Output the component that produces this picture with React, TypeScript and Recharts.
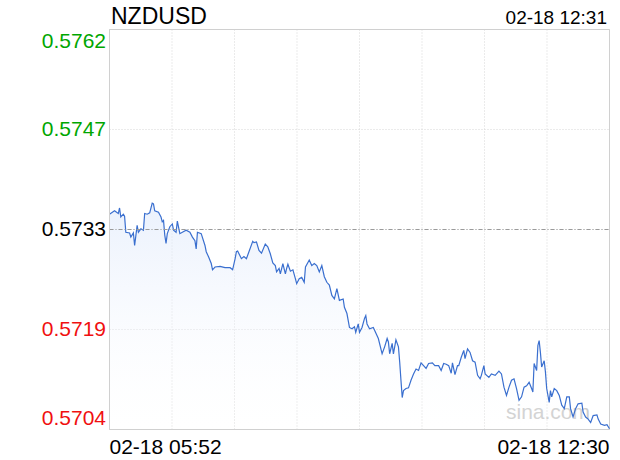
import React from "react"
import { AreaChart, Area, XAxis, YAxis, CartesianGrid, ReferenceLine, ReferenceArea } from "recharts"

// minute of day (05:52 = 352 ... 12:30 = 750) and NZDUSD price at that minute
const minuteOfDay = [
  352, 356, 359, 360, 361, 363, 364, 365, 368, 369, 371, 372, 374, 375, 377, 379, 380, 382, 384, 386,
  387, 388, 391, 393, 394, 395, 396, 397, 398, 400, 402, 403, 405, 406, 408, 410, 413, 416, 418, 420,
  421, 422, 425, 428, 429, 431, 433, 434, 436, 440, 444, 448, 450, 452, 453, 454, 457, 459, 461, 463,
  466, 467, 469, 471, 473, 476, 478, 480, 482, 484, 485, 487, 488, 490, 492, 493, 494, 496, 498, 500,
  501, 503, 505, 507, 508, 511, 513, 515, 517, 519, 521, 523, 525, 527, 529, 531, 533, 535, 538, 539,
  541, 543, 545, 547, 548, 550, 551, 553, 555, 556, 557, 559, 562, 563, 566, 569, 571, 573, 574, 575,
  577, 578, 580, 582, 583, 584, 585, 586, 588, 590, 592, 594, 596, 598, 600, 602, 604, 606, 609, 611,
  614, 616, 618, 620, 622, 624, 625, 627, 629, 630, 632, 634, 635, 637, 639, 641, 643, 645, 647, 648,
  650, 651, 654, 656, 659, 662, 664, 666, 668, 670, 672, 674, 676, 678, 680, 682, 684, 686, 688, 689,
  690, 692, 693, 694, 695, 696, 698, 699, 700, 702, 703, 704, 706, 708, 710, 712, 714, 716, 718, 719,
  721, 723, 725, 728, 729, 731, 733, 735, 737, 740, 741, 743, 746, 748, 750,
]

const price = [
  0.57351, 0.57356, 0.57352, 0.5736, 0.57347, 0.57351, 0.57348, 0.57325, 0.57324, 0.57318, 0.57324, 0.57306, 0.57335, 0.57325, 0.5733, 0.57328, 0.57352, 0.57351, 0.57353, 0.57367,
  0.57366, 0.57356, 0.57354, 0.57347, 0.5734, 0.57342, 0.57321, 0.57309, 0.57323, 0.57333, 0.57337, 0.57328, 0.57325, 0.57341, 0.57323, 0.57325, 0.57328, 0.57325, 0.57318, 0.57313,
  0.57301, 0.57325, 0.57323, 0.57306, 0.57297, 0.57289, 0.5728, 0.57271, 0.57275, 0.57276, 0.57274, 0.57274, 0.57271, 0.57287, 0.57297, 0.57298, 0.57287, 0.5729, 0.57287, 0.57297,
  0.57312, 0.5731, 0.57311, 0.57299, 0.57295, 0.57308, 0.57304, 0.57294, 0.57281, 0.57277, 0.57268, 0.57273, 0.57265, 0.5728, 0.57265, 0.57273, 0.57279, 0.57269, 0.57271, 0.57258,
  0.57251, 0.57258, 0.5726, 0.57253, 0.57275, 0.57285, 0.57277, 0.5728, 0.57277, 0.57268, 0.57277, 0.57261, 0.57253, 0.57249, 0.57234, 0.57229, 0.57244, 0.57227, 0.57229, 0.57217,
  0.57208, 0.57188, 0.57186, 0.57189, 0.57181, 0.57193, 0.57181, 0.57188, 0.57201, 0.57205, 0.57193, 0.57186, 0.57188, 0.57184, 0.57172, 0.5715, 0.5716, 0.57172, 0.57167, 0.5715,
  0.57165, 0.5715, 0.5717, 0.5716, 0.57138, 0.57112, 0.57087, 0.57097, 0.571, 0.57101, 0.57112, 0.57121, 0.57128, 0.57126, 0.57137, 0.57133, 0.57129, 0.57136, 0.57137, 0.57133,
  0.57133, 0.57126, 0.57136, 0.57135, 0.57133, 0.57122, 0.57137, 0.5712, 0.57133, 0.57133, 0.57145, 0.57155, 0.57143, 0.57157, 0.57152, 0.5714, 0.57138, 0.57119, 0.57114, 0.57119,
  0.57133, 0.57121, 0.57116, 0.57121, 0.57119, 0.57125, 0.57121, 0.57102, 0.5709, 0.57102, 0.57112, 0.57114, 0.571, 0.57083, 0.57088, 0.57102, 0.57104, 0.57109, 0.571, 0.57095,
  0.57136, 0.57126, 0.57162, 0.57169, 0.57152, 0.57131, 0.5714, 0.57124, 0.571, 0.5708, 0.57097, 0.57088, 0.571, 0.57097, 0.5709, 0.57076, 0.57071, 0.57088, 0.57088, 0.57071,
  0.57059, 0.57071, 0.57078, 0.57079, 0.57066, 0.57059, 0.57056, 0.57051, 0.57061, 0.57062, 0.57056, 0.57049, 0.57047, 0.57048, 0.57042,
]

const prevClose = 0.57329
const yTicks = [0.57617, 0.57473, 0.57329, 0.57185, 0.57041]
const yTickLabels = ["0.5762", "0.5747", "0.5733", "0.5719", "0.5704"]
const startMinute = 352
const endMinute = 750
const xEndLabels = ["02-18 05:52", "02-18 12:30"]
const title = "NZDUSD"
const updated = "02-18 12:31"

const FONT = '"Liberation Sans", Arial, Helvetica, sans-serif'

const data = minuteOfDay.map((t, i) => ({ t, p: price[i] }))
const gridX = Array.from({ length: 9 }, (_, k) => startMinute + ((endMinute - startMinute) * k) / 8)

function YTick(props: any) {
  const { x, y, index } = props
  const color = index < 2 ? "#00a600" : index === 2 ? "#000" : "#f01010"
  const dy = index === 0 ? 18 : index === 4 ? -4.5 : 6.5
  return (
    <text x={x - 3.5} y={y + dy} textAnchor="end" fill={color} fontSize={21} fontFamily={FONT}>
      {yTickLabels[index]}
    </text>
  )
}

function XTick(props: any) {
  const { x, y, payload } = props
  const v = payload.value
  if (v !== startMinute && v !== endMinute) return <g />
  const first = v === startMinute
  return (
    <text x={x} y={y + 24} textAnchor={first ? "start" : "end"} fill="#000" fontSize={21} fontFamily={FONT}>
      {first ? xEndLabels[0] : xEndLabels[1]}
    </text>
  )
}

export default function App() {
  return (
    <div style={{ position: "absolute", left: 0, top: 0, width: 620, height: 460, background: "#fff" }}>
      <svg width={620} height={460} style={{ position: "absolute", left: 0, top: 0 }}>
        <text x={111} y={24} fontSize={23} fontFamily={FONT} fill="#000">{title}</text>
        <text x={607} y={24} fontSize={19} fontFamily={FONT} fill="#000" textAnchor="end">{updated}</text>
        <text x={506} y={419} fontSize={21} fontFamily={FONT} fill="#cccccc">sina.com</text>
      </svg>
      <div style={{ position: "absolute", left: 0, top: 0 }}>
        <AreaChart width={620} height={460} data={data} margin={{ top: 29.5, right: 10.5, left: 0, bottom: 0 }}>
          <defs>
            <linearGradient id="fillGrad" x1="0" y1="0" x2="0" y2="1">
              <stop offset="0%" stopColor="#dde8fb" stopOpacity={1} />
              <stop offset="100%" stopColor="#ffffff" stopOpacity={0.2} />
            </linearGradient>
          </defs>
          <CartesianGrid stroke="#d6d6d6" strokeDasharray="1 2" />
          <XAxis
            type="number"
            dataKey="t"
            domain={[startMinute, endMinute]}
            ticks={gridX}
            interval={0}
            height={30.5}
            tickLine={false}
            tickSize={0}
            tickMargin={0}
            axisLine={{ stroke: "#d0d0d0" }}
            tick={<XTick />}
          />
          <YAxis
            type="number"
            domain={[yTicks[4], yTicks[0]]}
            ticks={yTicks}
            interval={0}
            width={109.5}
            tickLine={false}
            tickSize={0}
            tickMargin={0}
            axisLine={{ stroke: "#d0d0d0" }}
            tick={<YTick />}
          />
          <ReferenceArea x1={startMinute} x2={endMinute} y1={yTicks[4]} y2={yTicks[0]} fill="none" stroke="#d0d0d0" />
          <ReferenceLine y={prevClose} stroke="#9a9a9a" strokeDasharray="4 2 1 2" />
          <Area
            type="linear"
            dataKey="p"
            stroke="#3a6fcf"
            strokeWidth={1.2}
            fill="url(#fillGrad)"
            dot={false}
            activeDot={false}
            isAnimationActive={false}
          />
        </AreaChart>
      </div>
    </div>
  )
}
